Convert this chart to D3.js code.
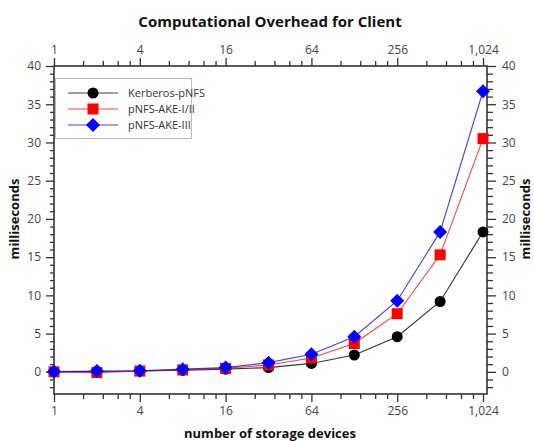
<!DOCTYPE html>
<html><head><meta charset="utf-8">
<script src="https://cdn.jsdelivr.net/npm/d3@7"></script>
<style>body{margin:0;background:#fff}svg{display:block}text{font-family:"Open Sans",sans-serif}</style>
</head><body>
<svg id="c" width="534" height="441"></svg>
<script>
const devices = [1, 2, 4, 8, 16, 32, 64, 128, 256, 512, 1024];
const kerberos = [0.0, 0.05, 0.1, 0.2, 0.35, 0.55, 1.1, 2.2, 4.6, 9.2, 18.3];
const akeI = [0.0, -0.1, 0.1, 0.25, 0.45, 0.9, 1.8, 3.7, 7.6, 15.3, 30.5];
const akeIII = [0.05, 0.1, 0.15, 0.35, 0.55, 1.2, 2.3, 4.6, 9.3, 18.3, 36.7];
const xTicks = [1, 4, 16, 64, 256, 1024];
const yTicks = [0, 5, 10, 15, 20, 25, 30, 35, 40];
const seriesNames = ["Kerberos-pNFS", "pNFS-AKE-I/II", "pNFS-AKE-III"];
const seriesColors = ["#000000", "#ff0000", "#0000ff"];
const seriesShapes = ["circle", "square", "diamond"];

const svg = d3.select("#c");
const L = 54, R = 487, T = 66, B = 394;
const x = d3.scaleLog().base(2).domain([1, 1092]).range([L, R]);
const y = d3.scaleLinear().domain([-2.9, 40]).range([B, T]);
const axisCol = "#333";

// minor ticks
const xMinor = [];
for (let i = 0; i < xTicks.length - 1; i++) {
  const a = xTicks[i], b = xTicks[i + 1];
  for (let k = 1; k < 5; k++) xMinor.push(a + (b - a) * k / 5);
}
const yMinor = d3.range(-2, 41, 1).filter(v => v % 5 !== 0);

function styleAxis(g, col) {
  g.select(".domain").remove();
  g.selectAll("line").attr("stroke", col).attr("stroke-width", 1.3);
  g.selectAll("text").attr("fill", "#444").style("font-size", "12px");
}

// bottom
svg.append("g").attr("transform", `translate(0,${B})`)
  .call(d3.axisBottom(x).tickValues(xTicks).tickFormat(d3.format(",")).tickSize(8).tickPadding(4))
  .call(g => styleAxis(g, axisCol));
svg.append("g").attr("transform", `translate(0,${B})`)
  .call(d3.axisBottom(x).tickValues(xMinor).tickFormat("").tickSize(5))
  .call(g => styleAxis(g, axisCol));
// top
svg.append("g").attr("transform", `translate(0,${T})`)
  .call(d3.axisTop(x).tickValues(xTicks).tickFormat(d3.format(",")).tickSize(8).tickPadding(4))
  .call(g => styleAxis(g, axisCol));
svg.append("g").attr("transform", `translate(0,${T})`)
  .call(d3.axisTop(x).tickValues(xMinor).tickFormat("").tickSize(5))
  .call(g => styleAxis(g, axisCol));
// left
svg.append("g").attr("transform", `translate(${L},0)`)
  .call(d3.axisLeft(y).tickValues(yTicks).tickSize(8).tickPadding(5))
  .call(g => styleAxis(g, axisCol));
svg.append("g").attr("transform", `translate(${L},0)`)
  .call(d3.axisLeft(y).tickValues(yMinor).tickFormat("").tickSize(4))
  .call(g => styleAxis(g, axisCol));
// right
svg.append("g").attr("transform", `translate(${R},0)`)
  .call(d3.axisRight(y).tickValues(yTicks).tickSize(9).tickPadding(6))
  .call(g => styleAxis(g, axisCol));
svg.append("g").attr("transform", `translate(${R},0)`)
  .call(d3.axisRight(y).tickValues(yMinor).tickFormat("").tickSize(6))
  .call(g => styleAxis(g, axisCol));

// frame
svg.append("rect").attr("x", L).attr("y", T).attr("width", R - L).attr("height", B - T)
  .attr("fill", "none").attr("stroke", axisCol).attr("stroke-width", 1.6);

// titles
svg.append("text").attr("x", 270).attr("y", 27).attr("text-anchor", "middle")
  .style("font-size", "15px").style("font-weight", "bold").attr("fill", "#111")
  .text("Computational Overhead for Client");
svg.append("text").attr("x", 270).attr("y", 438).attr("text-anchor", "middle")
  .style("font-size", "13px").style("font-weight", "bold").attr("fill", "#111")
  .text("number of storage devices");
svg.append("text").attr("transform", "translate(19,219) rotate(-90)").attr("text-anchor", "middle")
  .style("font-size", "13px").style("font-weight", "bold").attr("fill", "#111")
  .text("milliseconds");
svg.append("text").attr("transform", "translate(530,219) rotate(-90)").attr("text-anchor", "middle")
  .style("font-size", "13px").style("font-weight", "bold").attr("fill", "#111")
  .text("milliseconds");

const allSeries = [kerberos, akeI, akeIII];
const line = d3.line().x((d, i) => x(devices[i])).y(d => y(d));

function marker(g, shape, col, cx, cy) {
  if (shape === "circle") g.append("circle").attr("cx", cx).attr("cy", cy).attr("r", 5.5).attr("fill", col);
  else if (shape === "square") g.append("rect").attr("x", cx - 5.5).attr("y", cy - 5.5).attr("width", 11).attr("height", 11).attr("fill", col);
  else g.append("path").attr("d", `M${cx},${cy - 7}L${cx + 7},${cy}L${cx},${cy + 7}L${cx - 7},${cy}Z`).attr("fill", col);
}

allSeries.forEach((s, si) => {
  const g = svg.append("g");
  g.append("path").datum(s).attr("d", line).attr("fill", "none")
    .attr("stroke", seriesColors[si]).attr("stroke-width", 1.1).attr("stroke-opacity", si === 0 ? 0.8 : 0.75);
  s.forEach((v, i) => marker(g, seriesShapes[si], seriesColors[si], x(devices[i]), y(v)));
});

// legend
const lg = svg.append("g");
lg.append("rect").attr("x", 55.5).attr("y", 78.5).attr("width", 136).attr("height", 60)
  .attr("fill", "#fff").attr("stroke", "#bbb").attr("stroke-width", 1);
seriesNames.forEach((n, i) => {
  const yy = 93 + i * 16;
  lg.append("line").attr("x1", 68).attr("x2", 118).attr("y1", yy).attr("y2", yy)
    .attr("stroke", seriesColors[i]).attr("stroke-width", 1.1).attr("stroke-opacity", 0.75);
  marker(lg, seriesShapes[i], seriesColors[i], 93, yy);
  lg.append("text").attr("x", 128).attr("y", yy + 4).style("font-size", "11px").attr("fill", "#333").text(n);
});
</script>
</body></html>
